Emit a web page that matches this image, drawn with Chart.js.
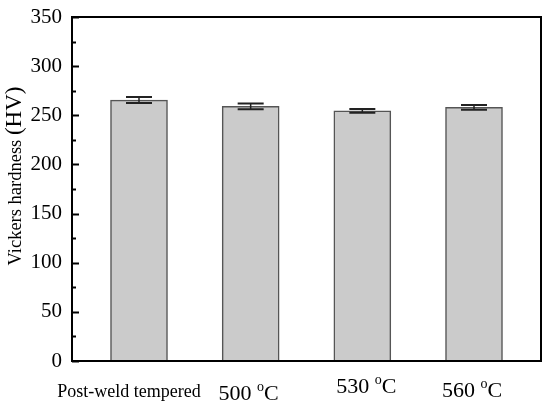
<!DOCTYPE html>
<html>
<head>
<meta charset="utf-8">
<script src="https://cdn.jsdelivr.net/npm/chart.js@4"></script>
<style>
  html, body { margin: 0; padding: 0; background: #fff; }
  #wrap { width: 550px; height: 407px; }
</style>
</head>
<body>
<div id="wrap"><canvas id="chart" width="550" height="407"></canvas></div>
<script>
// data
const categories = ['Post-weld tempered', '500', '530', '560'];
const hardness = [265.5, 259, 254.6, 258];
const hardnessErr = [3, 2.9, 1.9, 2.4];
const yTicks = [0, 50, 100, 150, 200, 250, 300, 350];

// small nudges for the hand-placed category labels
const labelDx = [-10, -2, 4, -2];
const labelDy = [0, 3, -4, 0];

const serif = '"Liberation Serif", "Times New Roman", serif';

const extras = {
    id: 'extras',
    afterDatasetsDraw(chart) {
        const { ctx, scales: { x, y } } = chart;
        ctx.save();
        ctx.strokeStyle = '#222';
        hardness.forEach((v, i) => {
            const px = x.getPixelForValue(i);
            const top = y.getPixelForValue(v + hardnessErr[i]);
            const bot = y.getPixelForValue(v - hardnessErr[i]);
            ctx.lineWidth = 1.5;
            ctx.beginPath();
            ctx.moveTo(px, top);
            ctx.lineTo(px, bot);
            ctx.stroke();
            ctx.lineWidth = 2;
            ctx.beginPath();
            ctx.moveTo(px - 13, top); ctx.lineTo(px + 13, top);
            ctx.moveTo(px - 13, bot); ctx.lineTo(px + 13, bot);
            ctx.stroke();
        });
        ctx.restore();
    },
    afterDraw(chart) {
        const { ctx, chartArea: a, scales: { x, y } } = chart;
        ctx.save();

        // frame
        ctx.strokeStyle = '#000';
        ctx.lineWidth = 2;
        ctx.strokeRect(a.left, a.top, a.right - a.left, a.bottom - a.top);

        // inward ticks on the left axis, minor every 25
        ctx.lineWidth = 2;
        for (let v = 0; v <= 350; v += 25) {
            const py = Math.round(y.getPixelForValue(v)) + 0.5;
            const len = v % 50 === 0 ? 7 : 4;
            ctx.beginPath();
            ctx.moveTo(a.left, py);
            ctx.lineTo(a.left + len, py);
            ctx.stroke();
        }

        // category labels
        ctx.fillStyle = '#000';
        ctx.textBaseline = 'alphabetic';
        categories.forEach((c, i) => {
            const cx = x.getPixelForValue(i) + labelDx[i];
            const base = 397 + labelDy[i];
            if (i === 0) {
                ctx.font = '18px ' + serif;
                ctx.textAlign = 'center';
                ctx.fillText(c, cx, base);
                return;
            }
            const main = c + ' ';
            ctx.font = '22px ' + serif;
            const w1 = ctx.measureText(main).width;
            const w3 = ctx.measureText('C').width;
            ctx.font = '14px ' + serif;
            const w2 = ctx.measureText('o').width;
            let sx = cx - (w1 + w2 + w3) / 2;
            ctx.textAlign = 'left';
            ctx.font = '22px ' + serif;
            ctx.fillText(main, sx, base);
            ctx.font = '14px ' + serif;
            ctx.fillText('o', sx + w1, base - 9);
            ctx.font = '22px ' + serif;
            ctx.fillText('C', sx + w1 + w2, base);
        });

        // y axis title, mixed sizes
        ctx.translate(21, 176);
        ctx.rotate(-Math.PI / 2);
        ctx.font = '18.5px ' + serif;
        const t1 = 'Vickers hardness ';
        const tw1 = ctx.measureText(t1).width;
        ctx.font = '23px ' + serif;
        const tw2 = ctx.measureText('(HV)').width;
        let tx = -(tw1 + tw2) / 2;
        ctx.textAlign = 'left';
        ctx.font = '18.5px ' + serif;
        ctx.fillText(t1, tx, 0);
        ctx.font = '23px ' + serif;
        ctx.fillText('(HV)', tx + tw1, 0);

        ctx.restore();
    }
};

document.addEventListener('DOMContentLoaded', () => {
    const ctx = document.getElementById('chart').getContext('2d');
    new Chart(ctx, {
        type: 'bar',
        data: {
            datasets: [{
                data: hardness.map((v, i) => ({ x: i, y: v })),
                backgroundColor: '#cbcbcb',
                borderColor: '#555',
                borderWidth: 1.5,
                barThickness: 57
            }]
        },
        options: {
            responsive: false,
            animation: false,
            layout: { padding: { top: 17, right: 9, bottom: 46, left: 0 } },
            plugins: {
                legend: { display: false },
                tooltip: { enabled: false }
            },
            scales: {
                x: {
                    type: 'linear',
                    min: -0.6,
                    max: 3.6,
                    offset: false,
                    display: false
                },
                y: {
                    min: 0,
                    max: 350,
                    afterBuildTicks(scale) {
                        scale.ticks = yTicks.map(v => ({ value: v }));
                    },
                    afterFit(scale) {
                        scale.width = 72;
                        scale.paddingTop = 0;
                        scale.paddingBottom = 0;
                    },
                    ticks: {
                        color: '#000',
                        padding: 10,
                        font: { family: serif, size: 21 }
                    },
                    grid: { display: false, drawTicks: false },
                    border: { display: false }
                }
            }
        },
        plugins: [extras]
    });
});
</script>
</body>
</html>
